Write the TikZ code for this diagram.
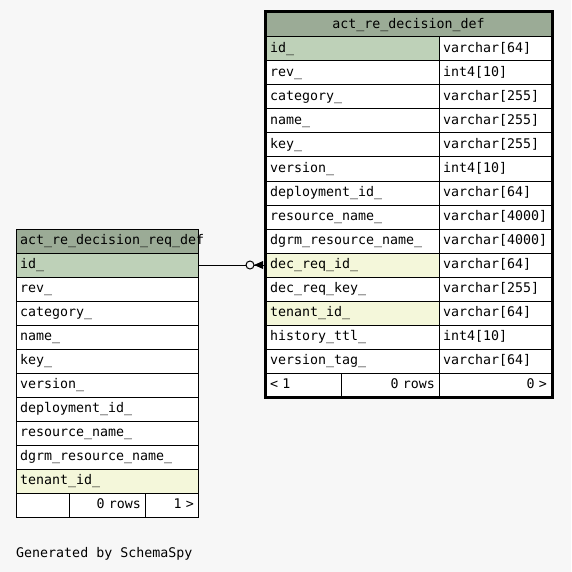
\documentclass[tikz,border=0pt]{standalone}
\usepackage{fontspec}
\usepackage{tikz}
\usetikzlibrary{positioning,calc}
\newfontfamily\schemamono{DejaVu Sans Mono}
\definecolor{pagebg}{HTML}{F7F7F7}
\definecolor{tablehead}{HTML}{9BAB96}
\definecolor{pkfill}{HTML}{BED1B8}
\definecolor{idxfill}{HTML}{F4F7DA}

\begin{document}
\begin{tikzpicture}[
    x=1pt, y=-1pt,
    font=\schemamono\fontsize{13.3}{15}\selectfont,
    cellbase/.style={
        draw=black,
        line width=1pt,
        fill=white,
        anchor=north west,
        minimum height=24pt,
        inner xsep=4pt,
        inner ysep=0pt,
        outer sep=0pt,
        text height=10pt,
        text depth=3pt,
        align=left
    },
    rname/.style={cellbase, text width=165pt},
    rtype/.style={cellbase, text width=104pt},
    lname/.style={cellbase, text width=174pt},
    pkname/.style={fill=pkfill},
    idxname/.style={fill=idxfill},
    plain/.style={},
    headcell/.style={fill=tablehead},
    edge/.style={draw=black, line width=1pt}
]

\fill[pagebg] (0,0) rectangle (571,572);

% focus table
\node[cellbase, headcell, text width=277pt, align=center] (r0) at (266,13)
{act\_re\_decision\_def};

\foreach \col/\typ/\sty [count=\i] in {
    id\_/varchar[64]/pkname,
    rev\_/int4[10]/plain,
    category\_/varchar[255]/plain,
    name\_/varchar[255]/plain,
    key\_/varchar[255]/plain,
    version\_/int4[10]/plain,
    deployment\_id\_/varchar[64]/plain,
    resource\_name\_/varchar[4000]/plain,
    dgrm\_resource\_name\_/varchar[4000]/plain,
    dec\_req\_id\_/varchar[64]/idxname,
    dec\_req\_key\_/varchar[255]/plain,
    tenant\_id\_/varchar[64]/idxname,
    history\_ttl\_/int4[10]/plain,
    version\_tag\_/varchar[64]/plain} {
  \pgfmathtruncatemacro\prev{\i-1}
  \node[rname, \sty, below=0pt of r\prev.south west, anchor=north west] (r\i) {\col};
  \node[rtype, right=0pt of r\i.north east, anchor=north west] (t\i) {\typ};
}

\node[cellbase, text width=67pt, below=0pt of r14.south west, anchor=north west] (rf1)
{< 1};
\node[cellbase, text width=90pt, align=right, right=0pt of rf1.north east, anchor=north west] (rf2)
{0 rows};
\node[cellbase, text width=104pt, align=right, right=0pt of rf2.north east, anchor=north west] (rf3)
{0 >};

% parent table
\node[lname, headcell] (l0) at (16,229)
{\mbox{act\_re\_decision\_req\_def}};

\foreach \col/\sty [count=\i] in {
    id\_/pkname,
    rev\_/plain,
    category\_/plain,
    name\_/plain,
    key\_/plain,
    version\_/plain,
    deployment\_id\_/plain,
    resource\_name\_/plain,
    dgrm\_resource\_name\_/plain,
    tenant\_id\_/idxname} {
  \pgfmathtruncatemacro\prev{\i-1}
  \node[lname, \sty, below=0pt of l\prev.south west, anchor=north west] (l\i) {\col};
}

\node[cellbase, text width=45pt, below=0pt of l10.south west, anchor=north west] (lf1) {};
\node[cellbase, text width=68pt, align=right, right=0pt of lf1.north east, anchor=north west] (lf2)
{0 rows};
\node[cellbase, text width=45pt, align=right, right=0pt of lf2.north east, anchor=north west] (lf3)
{1 >};

% relationship
\draw[edge] (l1.east) -- (r10.west);
\node[circle, draw=black, line width=1pt, fill=pagebg, minimum size=8pt, inner sep=0pt]
  (zero) at ($(r10.west)+(-16,0)$) {};
\fill[black] ($(r10.west)+(-12,0)$) -- ($(r10.west)+(-3,-4)$) -- ($(r10.west)+(-3,4)$) -- cycle;

% focus frame
\draw[line width=3pt] ($(r0.north west)+(-1,-1)$) rectangle ($(rf3.south east)+(1,0)$);

\node[anchor=base west, inner sep=0pt] (gen) at (16,557) {Generated by SchemaSpy};

\end{tikzpicture}
\end{document}
